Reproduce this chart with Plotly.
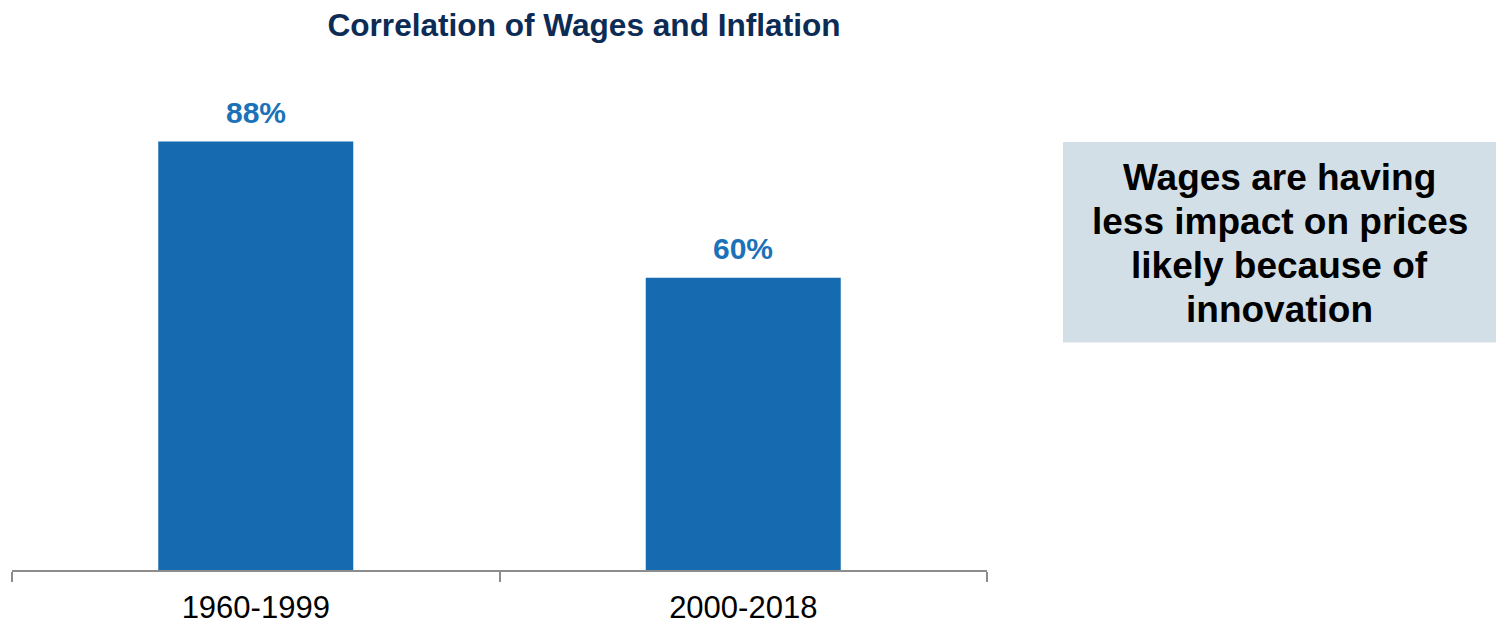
import plotly.graph_objects as go

# Data
periods = ["1960-1999", "2000-2018"]
correlation_pct = [88, 60]
chart_title = "Correlation of Wages and Inflation"
callout_lines = ["Wages are having", "less impact on prices", "likely because of", "innovation"]

W, H = 1496, 624
L, R, T, B = 12, 509, 83, 54
plot_w = W - L - R
plot_h = H - T - B

def px_x(px):
    return (px - L) / plot_w

def px_y(py):
    return (H - B - py) / plot_h

FONT = "Arial, Liberation Sans, sans-serif"

fig = go.Figure()
fig.add_trace(go.Bar(
    x=periods, y=correlation_pct,
    marker=dict(color="#166BB0", line=dict(width=0)),
    hoverinfo="skip",
))

for p, v in zip(periods, correlation_pct):
    fig.add_annotation(
        x=p, y=v, xref="x", yref="y", text=f"<b>{v}%</b>",
        showarrow=False, yanchor="middle", yshift=29,
        font=dict(family=FONT, size=30, color="#1B72B8"),
    )

# Callout box
fig.add_shape(type="rect", xref="paper", yref="paper",
              x0=px_x(1063), x1=px_x(1496), y0=px_y(342.5), y1=px_y(142),
              fillcolor="#D3DFE7", line=dict(width=0), layer="below")
for i, line in enumerate(callout_lines):
    fig.add_annotation(
        x=px_x(1279.5), y=px_y(177 + 44 * i), xref="paper", yref="paper",
        text=f"<b>{line}</b>", showarrow=False, xanchor="center", yanchor="middle",
        font=dict(family=FONT, size=37, color="#000000"),
    )

fig.update_layout(
    width=W, height=H,
    margin=dict(l=L, r=R, t=T, b=B, pad=0, autoexpand=False),
    paper_bgcolor="white", plot_bgcolor="white",
    showlegend=False,
    bargap=0.6,
    title=dict(text=f"<b>{chart_title}</b>", xref="container", yref="container",
               x=584 / W, y=1 - 24.5 / H, xanchor="center", yanchor="middle",
               font=dict(family=FONT, size=31.6, color="#0C2C56")),
    xaxis=dict(
        type="category", range=[-0.5, 1.5], automargin=False,
        showline=True, linecolor="#8C8C8C", linewidth=1.5,
        ticks="outside", tickson="boundaries", ticklen=10, tickcolor="#8C8C8C", tickwidth=1.5,
        ticklabelstandoff=9,
        tickfont=dict(family=FONT, size=31, color="#000000"),
        showgrid=False, zeroline=False,
    ),
    yaxis=dict(range=[0, 100], visible=False, showgrid=False, zeroline=False, automargin=False),
)

fig.write_html("out.html")
